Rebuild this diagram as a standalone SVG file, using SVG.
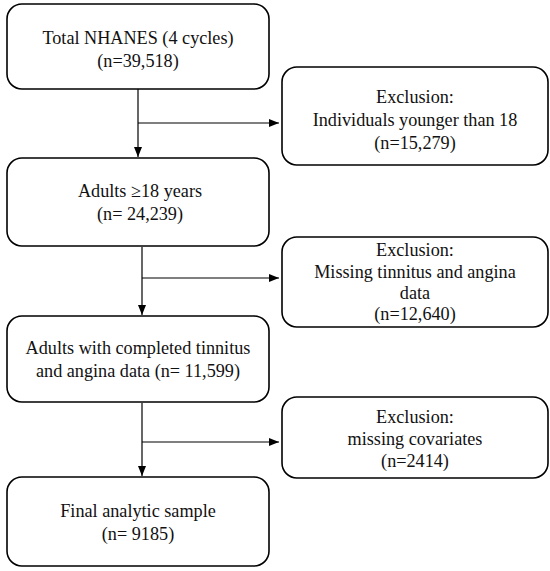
<svg xmlns="http://www.w3.org/2000/svg" width="550" height="571" viewBox="0 0 550 571">
<style>
.box{fill:#fff;stroke:#000;stroke-width:1.6}
.t{font-family:"Liberation Serif","Times New Roman",serif;font-size:18.2px;fill:#111;text-anchor:middle}
.ln{stroke:#000;stroke-width:1.2;fill:none}
</style>
<defs>
<marker id="ah" markerWidth="10" markerHeight="8" refX="10" refY="4" orient="auto" markerUnits="userSpaceOnUse">
<path d="M0,0 L10,4 L0,8 Z" fill="#000"/>
</marker>
</defs>
<rect width="550" height="571" fill="#fff"/>
<g id="connectors">
<line class="ln" x1="138" y1="89" x2="138" y2="157" marker-end="url(#ah)"/>
<line class="ln" x1="138" y1="123" x2="279" y2="123" marker-end="url(#ah)"/>
<line class="ln" x1="142" y1="247" x2="142" y2="315" marker-end="url(#ah)"/>
<line class="ln" x1="142" y1="278" x2="279" y2="278" marker-end="url(#ah)"/>
<line class="ln" x1="142" y1="403" x2="142" y2="476" marker-end="url(#ah)"/>
<line class="ln" x1="142" y1="442" x2="279" y2="442" marker-end="url(#ah)"/>
</g>
<g id="n1">
<rect class="box" x="7" y="4" width="262" height="85" rx="15"/>
<text class="t" x="138" y="44">Total NHANES (4 cycles)</text>
<text class="t" x="138" y="67">(n=39,518)</text>
</g>
<g id="e1">
<rect class="box" x="282" y="67" width="266" height="98" rx="15"/>
<text class="t" x="415" y="103">Exclusion:</text>
<text class="t" x="415" y="126">Individuals younger than 18</text>
<text class="t" x="415" y="149">(n=15,279)</text>
</g>
<g id="n2">
<rect class="box" x="7" y="158" width="262" height="88" rx="15"/>
<text class="t" x="140" y="197">Adults ≥18 years</text>
<text class="t" x="140" y="220">(n= 24,239)</text>
</g>
<g id="e2">
<rect class="box" x="282" y="237" width="266" height="90" rx="15"/>
<text class="t" x="415" y="256">Exclusion:</text>
<text class="t" x="415" y="278">Missing tinnitus and angina</text>
<text class="t" x="415" y="299">data</text>
<text class="t" x="415" y="320">(n=12,640)</text>
</g>
<g id="n3">
<rect class="box" x="7" y="316" width="262" height="86" rx="15"/>
<text class="t" x="138" y="354">Adults with completed tinnitus</text>
<text class="t" x="138" y="377">and angina data (n= 11,599)</text>
</g>
<g id="e3">
<rect class="box" x="282" y="397" width="266" height="81" rx="15"/>
<text class="t" x="415" y="423">Exclusion:</text>
<text class="t" x="415" y="445">missing covariates</text>
<text class="t" x="415" y="467">(n=2414)</text>
</g>
<g id="n4">
<rect class="box" x="7" y="477" width="262" height="89" rx="15"/>
<text class="t" x="138" y="517">Final analytic sample</text>
<text class="t" x="138" y="540">(n= 9185)</text>
</g>
</svg>
